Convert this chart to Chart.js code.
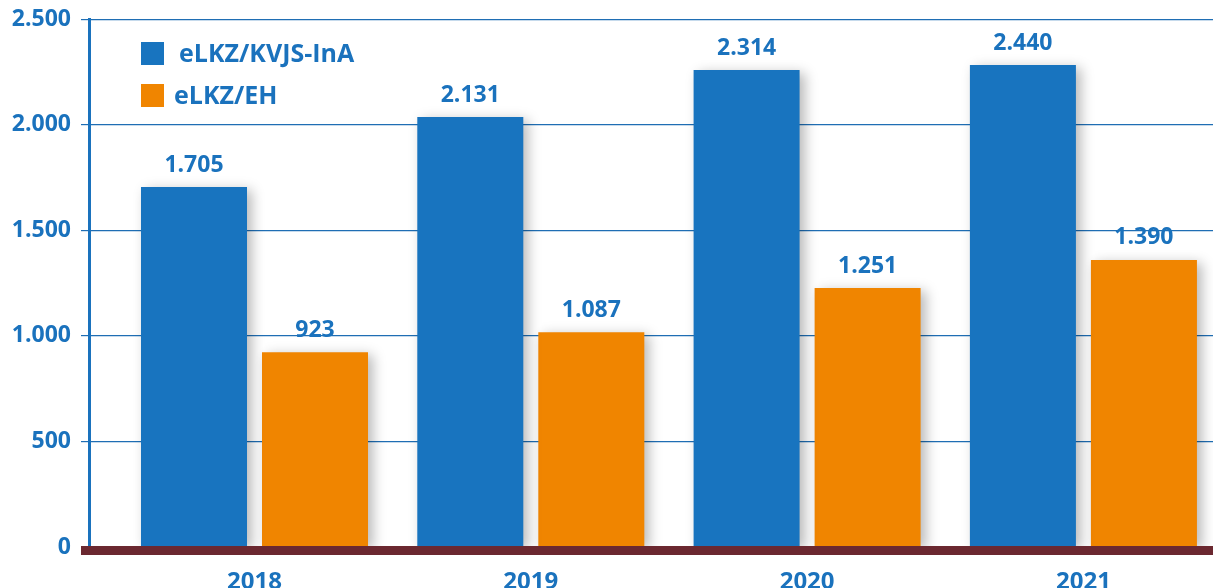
<!DOCTYPE html>
<html><head><meta charset="utf-8">
<script src="https://cdn.jsdelivr.net/npm/chart.js@4/dist/chart.umd.min.js"></script>
<style>html,body{margin:0;padding:0;background:#fff;overflow:hidden}</style>
</head><body>
<canvas id="c" width="1213" height="588"></canvas>
<script>
const years = ['2018', '2019', '2020', '2021'];
const seriesNames = ['eLKZ/KVJS-InA', 'eLKZ/EH'];
// bar heights as drawn in the picture
const kvjsBars = [1705, 2037, 2260, 2283];
const ehBars = [923, 1017, 1227, 1360];
// values printed above the bars
const kvjsLabels = [1705, 2131, 2314, 2440];
const ehLabels = [923, 1087, 1251, 1390];
const yTicks = [0, 500, 1000, 1500, 2000, 2500];

const BLUE = '#1874bf';
const ORANGE = '#f08500';
const TEXT = '#1a72bd';
const GRID = '#1f6eb4';
const BAND = '#6b2830';
const FONT = '"Open Sans", "DejaVu Sans", sans-serif';

const fmt = n => String(n).replace(/\B(?=(\d{3})+(?!\d))/g, '.');

const decor = {
  id: 'decor',
  beforeDatasetsDraw(chart) {
    const ctx = chart.ctx;
    ctx.save();
    ctx.shadowColor = 'rgba(0,0,0,0.28)';
    ctx.shadowBlur = 12;
    ctx.shadowOffsetX = 5;
    ctx.shadowOffsetY = 3;
  },
  afterDatasetsDraw(chart) {
    const ctx = chart.ctx;
    ctx.restore();
    const ca = chart.chartArea;
    const y0 = chart.scales.y.getPixelForValue(0);
    ctx.save();
    ctx.fillStyle = BAND;
    ctx.fillRect(ca.left - 8, y0 - 1, chart.width - ca.left + 8, 9);
    ctx.fillStyle = TEXT;
    ctx.font = 'bold 23px ' + FONT;
    ctx.textAlign = 'center';
    ctx.textBaseline = 'middle';
    [kvjsLabels, ehLabels].forEach((labs, di) => {
      chart.getDatasetMeta(di).data.forEach((bar, i) => {
        ctx.fillText(fmt(labs[i]), bar.x, bar.y - 22);
      });
    });
    // legend
    const items = [
      {c: BLUE, t: seriesNames[0], sx: 141, sy: 42, tx: 179},
      {c: ORANGE, t: seriesNames[1], sx: 141, sy: 84, tx: 174}
    ];
    ctx.textAlign = 'left';
    ctx.font = 'bold 25px ' + FONT;
    items.forEach(it => {
      ctx.fillStyle = it.c;
      ctx.fillRect(it.sx, it.sy, 23, 23);
      ctx.fillStyle = TEXT;
      ctx.fillText(it.t, it.tx, it.sy + 13);
    });
    ctx.restore();
  }
};

new Chart(document.getElementById('c'), {
  type: 'bar',
  data: {
    datasets: [
      {label: seriesNames[0], data: kvjsBars.map((v, i) => ({x: i, y: v})), backgroundColor: BLUE},
      {label: seriesNames[1], data: ehBars.map((v, i) => ({x: i, y: v})), backgroundColor: ORANGE}
    ]
  },
  options: {
    responsive: false,
    devicePixelRatio: 1,
    animation: false,
    layout: {padding: {top: 0, left: 0, right: 0, bottom: 0}},
    datasets: {bar: {categoryPercentage: 0.876, barPercentage: 0.876}},
    plugins: {legend: {display: false}, tooltip: {enabled: false}},
    scales: {
      x: {
        type: 'linear',
        min: -0.599,
        max: 3.469,
        offset: false,
        grid: {display: false, drawTicks: false},
        border: {display: false},
        afterBuildTicks: s => { s.ticks = years.map((y, i) => ({value: i})); },
        afterFit: s => { s.height = 41; },
        ticks: {
          autoSkip: false,
          maxRotation: 0,
          padding: 21,
          color: TEXT,
          font: {family: FONT, size: 24, weight: 'bold'},
          callback: v => years[v]
        }
      },
      y: {
        min: 0,
        max: 2500,
        afterBuildTicks: s => { s.ticks = yTicks.map(v => ({value: v})); },
        afterFit: s => { s.width = 89; },
        grid: {color: GRID, lineWidth: 1.2, tickLength: 8, drawTicks: true},
        border: {color: TEXT, width: 3},
        ticks: {
          padding: 10,
          color: TEXT,
          font: {family: FONT, size: 23, weight: 'bold', lineHeight: 0.81},
          callback: v => fmt(v)
        }
      }
    }
  },
  plugins: [decor]
});
</script>
</body></html>
